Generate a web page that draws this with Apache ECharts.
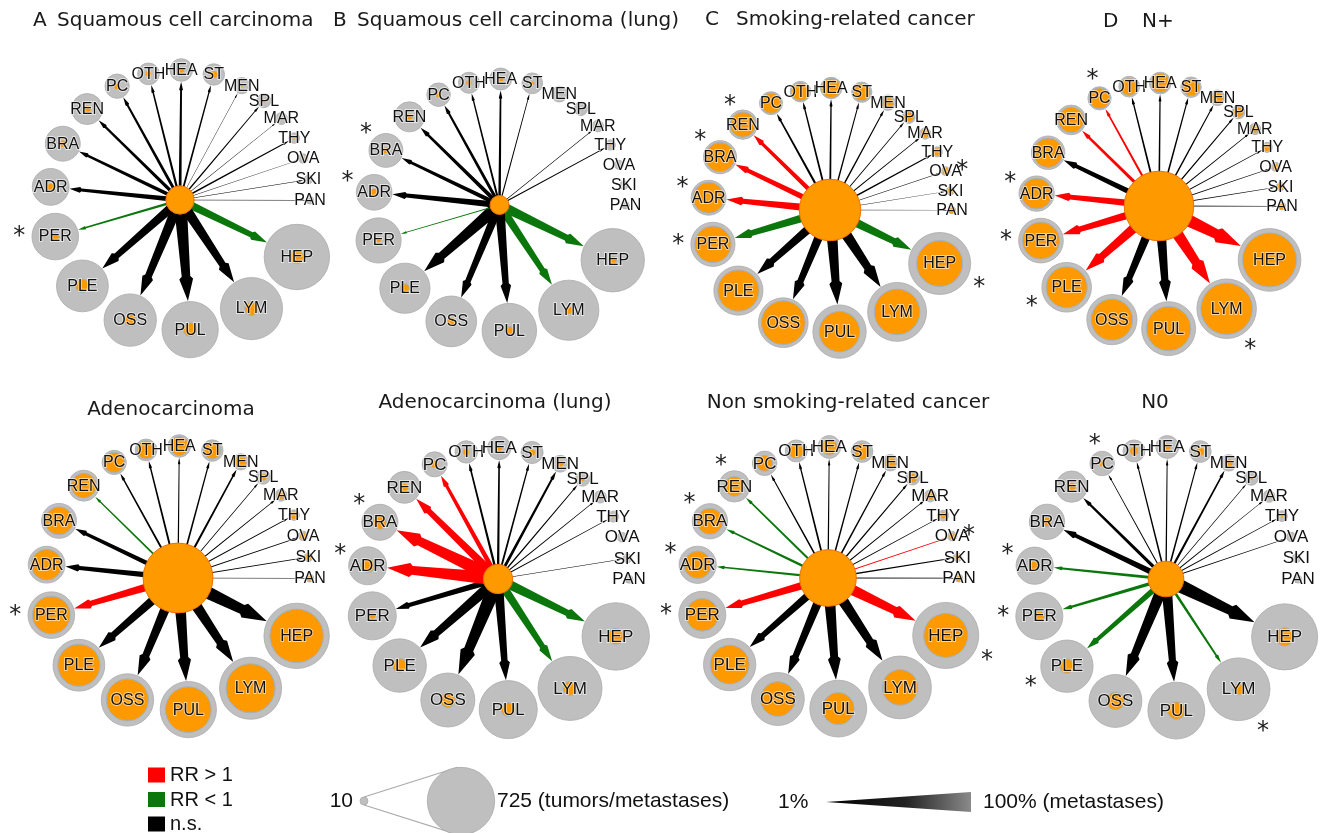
<!DOCTYPE html>
<html><head><meta charset="utf-8">
<script src="https://cdn.jsdelivr.net/npm/echarts@6/dist/echarts.min.js"></script>
<style>html,body{margin:0;padding:0;background:#fff}#chart{width:1322px;height:833px}</style>
</head><body><div id="chart"></div>
<script>
// ---------------- DATA ----------------
// metastatic sites, in layout order (clockwise, starting at HEP)
const sites = ['HEP','LYM','PUL','OSS','PLE','PER','ADR','BRA','REN','PC','OTH','HEA','ST','MEN','SPL','MAR','THY','OVA','SKI','PAN'];
// grey circles: all metastases per site (10 ... 725)
const totalMetastases = [725,654,537,465,455,368,230,207,163,100,80,87,78,45,33,24,19,15,13,10];

const panelLetters = ['A','B','C','D','','','',''];
const panelTitles = ['Squamous cell carcinoma','Squamous cell carcinoma (lung)','Smoking-related cancer','N+',
                     'Adenocarcinoma','Adenocarcinoma (lung)','Non smoking-related cancer','N0'];
// centre circles: tumours in subgroup
const centerTumors = [136,65,712,893,827,138,533,211];

// orange circles: metastases in subgroup (site order)
const metsSquamous     = [32,32,31,25,31,11,7,7,9,6,5,6,8,1,2,1,1,1,1,1];
const metsSquamousLung = [12,9,12,9,15,3,9,6,6,5,5,5,3,0,0,1,1,0,0,0];
const metsSmoking      = [399,393,310,362,321,251,182,164,121,78,62,72,56,26,20,12,10,7,6,7];
const metsNplus        = [539,491,363,316,313,253,176,160,122,82,56,70,56,26,19,12,9,6,6,6];
const metsAdeno        = [486,408,355,298,302,242,161,133,104,72,56,63,49,26,7,11,9,6,6,4];
const metsAdenoLung    = [41,31,31,36,31,6,31,31,10,8,6,6,6,6,3,1,1,0,1,0];
const metsNonSmoking   = [322,210,170,199,250,178,124,112,65,42,38,43,43,23,14,9,6,6,5,5];
const metsN0           = [55,21,52,52,34,16,16,16,10,5,10,7,10,10,2,2,1,1,0,0];

// arrows: % of metastases (1 ... 100)
const pctSquamous     = [35,45,55,45,40,10,20,15,15,13,10,12,8,2,6,2,6,2,3,3];
const pctSquamousLung = [42,37,42,37,53,5,27,18,18,14,9,11,5,0,0,3,6,0,0,0];
const pctSmoking      = [43,54,54,43,43,38,35,27,22,11,9,9,7,7,5,5,7,3,3,2];
const pctNplus        = [65,59,48,43,48,38,32,27,16,11,9,8,8,7,6,5,5,4,4,4];
const pctAdeno        = [62,52,52,46,41,36,26,21,8,9,9,6,8,10,4,5,5,5,5,2];
const pctAdenoLung    = [40,35,40,60,45,25,55,55,35,20,10,10,8,12,6,4,4,0,3,0];
const pctNonSmoking   = [50,50,50,40,35,35,10,12,10,7,8,6,7,7,6,5,4,4,6,5];
const pctN0           = [60,12,45,50,25,15,12,25,15,5,7,6,7,10,3,4,4,4,0,0];

// relative risk: hi = RR>1, lo = RR<1, ns = n.s.
const rrSquamous     = ['lo','ns','ns','ns','ns','lo','ns','ns','ns','ns','ns','ns','ns','ns','ns','ns','ns','ns','ns','ns'];
const rrSquamousLung = ['lo','lo','ns','ns','ns','lo','ns','ns','ns','ns','ns','ns','ns','ns','ns','ns','ns','ns','ns','ns'];
const rrSmoking      = ['lo','ns','ns','ns','ns','lo','hi','hi','hi','ns','ns','ns','ns','ns','ns','ns','ns','ns','ns','ns'];
const rrNplus        = ['hi','hi','ns','ns','hi','hi','hi','ns','hi','hi','ns','ns','ns','ns','ns','ns','ns','ns','ns','ns'];
const rrAdeno        = ['ns','ns','ns','ns','ns','hi','ns','ns','lo','ns','ns','ns','ns','ns','ns','ns','ns','ns','ns','ns'];
const rrAdenoLung    = ['lo','lo','ns','ns','ns','ns','hi','hi','hi','hi','ns','ns','ns','ns','ns','ns','ns','ns','ns','ns'];
const rrNonSmoking   = ['hi','ns','ns','ns','ns','hi','lo','lo','lo','ns','ns','ns','ns','ns','ns','ns','ns','hi','ns','ns'];
const rrN0           = ['ns','lo','ns','ns','lo','lo','lo','ns','ns','ns','ns','ns','ns','ns','ns','ns','ns','ns','ns','ns'];

// significant sites (asterisk)
const sigSquamous     = ['PER'];
const sigSquamousLung = ['BRA','ADR'];
const sigSmoking      = ['REN','BRA','ADR','PER','OVA','HEP'];
const sigNplus        = ['PC','ADR','PER','PLE','LYM'];
const sigAdeno        = ['PER'];
const sigAdenoLung    = ['BRA','ADR'];
const sigNonSmoking   = ['REN','BRA','ADR','PER','OVA','HEP'];
const sigN0           = ['PC','ADR','PER','PLE','LYM'];

const legendRR = ['RR > 1','RR < 1','n.s.'];

// ---------------- LAYOUT / STYLE ----------------
const panelLayout = [
  {cx:180, cy:200, R:130, s:0.97}, {cx:499.5, cy:205, R:126, s:0.94},
  {cx:830, cy:210, R:122, s:0.92}, {cx:1159, cy:206, R:123, s:0.93},
  {cx:178, cy:578, R:132, s:0.97}, {cx:498, cy:579, R:131, s:1.0},
  {cx:828, cy:578, R:131, s:0.98}, {cx:1166, cy:579, R:132, s:0.98}
];
const titleLayout = [
  {lx:33, tx:57, y:21}, {lx:333, tx:357, y:21}, {lx:705, tx:736, y:20}, {lx:1103, tx:1142, y:22},
  {cx:171, y:410}, {cx:495, y:403}, {cx:848, y:403}, {cx:1155, y:403}
];
const RED='#ff0000', GREEN='#0b760b', BLACK='#000000', ORANGE='#ff9900', GREY='#bfbfbf';
const rrColor = {hi:RED, lo:GREEN, ns:BLACK};
const MAX_N = 725, MAX_R = 33.7, W100 = 20;
const rScale = n => n > 0 ? MAX_R*Math.sqrt(n/MAX_N) : 0;

const panels = [
  [metsSquamous, pctSquamous, rrSquamous, sigSquamous],
  [metsSquamousLung, pctSquamousLung, rrSquamousLung, sigSquamousLung],
  [metsSmoking, pctSmoking, rrSmoking, sigSmoking],
  [metsNplus, pctNplus, rrNplus, sigNplus],
  [metsAdeno, pctAdeno, rrAdeno, sigAdeno],
  [metsAdenoLung, pctAdenoLung, rrAdenoLung, sigAdenoLung],
  [metsNonSmoking, pctNonSmoking, rrNonSmoking, sigNonSmoking],
  [metsN0, pctN0, rrN0, sigN0]
].map(([mets,pct,rr,sig]) => ({mets,pct,rr,sig}));

// angular layout: equal gap + space proportional to neighbouring circle sizes
const siteAngles = [];
(function(){
  let a = 116;
  for (let i = 0; i < sites.length; i++) {
    if (i > 0) a += 6 + 0.375*(rScale(totalMetastases[i-1]) + rScale(totalMetastases[i]));
    siteAngles.push(a % 360);
  }
})();

function arrowSeries(pi) {
  const P = panels[pi], L0 = panelLayout[pi];
  return {
    type:'custom', coordinateSystem:'polar', polarIndex:pi, silent:true, z:2,
    data: sites.map((s,i) => [1, siteAngles[i], i]),
    renderItem: (params, api) => {
      const i = api.value(2), ang = api.value(1);
      const pct = P.pct[i];
      if (!pct) return null;
      const c = api.coord([0, ang]), p = api.coord([1, ang]);
      const dx = p[0]-c[0], dy = p[1]-c[1], D = Math.hypot(dx, dy);
      const ux = dx/D, uy = dy/D, nx = -uy, ny = ux;
      const rg = L0.s*rScale(totalMetastases[i]);
      const L = D - rg - 0.5;
      const w = pct/100*W100*L0.s;
      const hl = 1.7*w + 4, bev = 0.12*hl;
      const h0 = 0.62*w, h1 = 0.4*w, h2 = 0.6*w + 0.5;
      const pt = (t, o) => [c[0]+ux*t+nx*o, c[1]+uy*t+ny*o];
      const pts = [pt(0, h0), pt(L-hl-bev, h1), pt(L-hl, h2), pt(L, 0), pt(L-hl, -h2), pt(L-hl-bev, -h1), pt(0, -h0)];
      return {type:'polygon', shape:{points:pts}, style:{fill: rrColor[P.rr[i]]}};
    }
  };
}

function nodeSeries(pi) {
  const P = panels[pi], L0 = panelLayout[pi];
  return {
    type:'custom', coordinateSystem:'polar', polarIndex:pi, silent:true, z:3,
    data: sites.map((s,i) => [1, siteAngles[i], i]),
    renderItem: (params, api) => {
      const i = api.value(2), ang = api.value(1);
      const p = api.coord([1, ang]);
      const rg = L0.s*rScale(totalMetastases[i]);
      const ro = L0.s*rScale(P.mets[i]);
      const ch = [
        {type:'circle', shape:{cx:p[0], cy:p[1], r:rg}, style:{fill:GREY, stroke:'#ababab', lineWidth:0.8}}
      ];
      if (ro > 0) ch.push({type:'circle', shape:{cx:p[0], cy:p[1], r:ro},
        style:{fill:ORANGE, stroke: ro > 4 ? '#9fb3c8' : null, lineWidth:1}});
      ch.push({type:'text', style:{text:sites[i], x:p[0], y:p[1]+0.5, align:'center', verticalAlign:'middle',
        fontSize: Math.round(17*L0.s), fontFamily:'Liberation Sans', fill:'#111',
        stroke:'rgba(255,255,255,0.6)', lineWidth:1.8, strokeFirst:true}});
      if (P.sig.indexOf(sites[i]) >= 0) {
        const th = (ang - 90)*Math.PI/180;
        const bias = 25*Math.max(0, -Math.cos(th))*Math.PI/180;
        const d = rg + 13;
        const fs = 24;
        ch.push({type:'text', style:{text:'*', x:p[0]+d*Math.cos(th+bias), y:p[1]+d*Math.sin(th+bias)+0.22*fs,
          align:'center', verticalAlign:'middle', fontSize:fs, fontFamily:'DejaVu Sans', fill:'#222'}});
      }
      return {type:'group', children: ch};
    }
  };
}

function centerSeries(pi) {
  const L0 = panelLayout[pi];
  return {
    type:'custom', coordinateSystem:'polar', polarIndex:pi, silent:true, z:4,
    data: [[0, 0, centerTumors[pi]]],
    renderItem: (params, api) => {
      const c = api.coord([0, 0]);
      return {type:'circle', shape:{cx:c[0], cy:c[1], r:L0.s*rScale(api.value(2))},
        style:{fill:ORANGE, stroke:'#f07000', lineWidth:1}};
    }
  };
}

// ---------------- GRAPHIC (titles + legend) ----------------
const tStyle = {fontSize:20, fontFamily:'DejaVu Sans', fill:'#1a1a1a', verticalAlign:'middle'};
const graphic = [];
panelTitles.forEach((t, i) => {
  const L = titleLayout[i];
  if (panelLetters[i]) {
    graphic.push({type:'text', style:Object.assign({text:panelLetters[i], x:L.lx, y:L.y}, tStyle)});
    graphic.push({type:'text', style:Object.assign({text:t, x:L.tx, y:L.y}, tStyle)});
  } else {
    graphic.push({type:'text', style:Object.assign({text:t, x:L.cx, y:L.y, align:'center'}, tStyle)});
  }
});
const lStyle = {fontSize:21, fontFamily:'Liberation Sans', fill:'#111', verticalAlign:'middle'};
[RED, GREEN, BLACK].forEach((col, k) => {
  const y = 775 + k*24.5;
  graphic.push({type:'rect', shape:{x:148, y:y-7.5, width:17, height:15}, style:{fill:col}});
  graphic.push({type:'text', style:Object.assign({text:legendRR[k], x:170, y:y+0.5}, lStyle, {fontSize:20})});
});
// size legend
const rSmall = rScale(10), rBig = rScale(MAX_N);
const sc = [364, 801], bc = [461, 801];
graphic.push({type:'line', shape:{x1:sc[0], y1:sc[1]-rSmall, x2:bc[0]-3, y2:bc[1]-rBig}, style:{stroke:'#aaaaaa', lineWidth:1.2}});
graphic.push({type:'line', shape:{x1:sc[0], y1:sc[1]+rSmall, x2:bc[0]-3, y2:bc[1]+rBig}, style:{stroke:'#aaaaaa', lineWidth:1.2}});
graphic.push({type:'circle', shape:{cx:sc[0], cy:sc[1], r:rSmall}, style:{fill:GREY, stroke:'#aaaaaa', lineWidth:0.8}});
graphic.push({type:'circle', shape:{cx:bc[0], cy:bc[1], r:rBig}, style:{fill:GREY, stroke:'#aaaaaa', lineWidth:0.8}});
graphic.push({type:'text', style:Object.assign({text:'10', x:353, y:801, align:'right'}, lStyle)});
graphic.push({type:'text', style:Object.assign({text:'725 (tumors/metastases)', x:497, y:801}, lStyle)});
// width legend
graphic.push({type:'text', style:Object.assign({text:'1%', x:778, y:802}, lStyle)});
graphic.push({type:'polygon', shape:{points:[[826,802],[971,802-W100/2],[971,802+W100/2]]},
  style:{fill:new echarts.graphic.LinearGradient(0,0,1,0,[{offset:0,color:'#000'},{offset:0.55,color:'#222'},{offset:1,color:'#8a8a8a'}])}});
graphic.push({type:'text', style:Object.assign({text:'100% (metastases)', x:983, y:802}, lStyle)});

// ---------------- OPTION ----------------
const series = [];
panelLayout.forEach((L, i) => { series.push(arrowSeries(i)); });
panelLayout.forEach((L, i) => { series.push(nodeSeries(i)); });
panelLayout.forEach((L, i) => { series.push(centerSeries(i)); });

const option = {
  animation:false,
  backgroundColor:'#ffffff',
  polar: panelLayout.map(L => ({center:[L.cx, L.cy], radius:L.R})),
  angleAxis: panelLayout.map((L,i) => ({polarIndex:i, type:'value', min:0, max:360, startAngle:90, clockwise:true, show:false})),
  radiusAxis: panelLayout.map((L,i) => ({polarIndex:i, type:'value', min:0, max:1, show:false})),
  series,
  graphic
};
const chart = echarts.init(document.getElementById('chart'), null, {renderer:'canvas'});
chart.setOption(option);
</script>
</body></html>
